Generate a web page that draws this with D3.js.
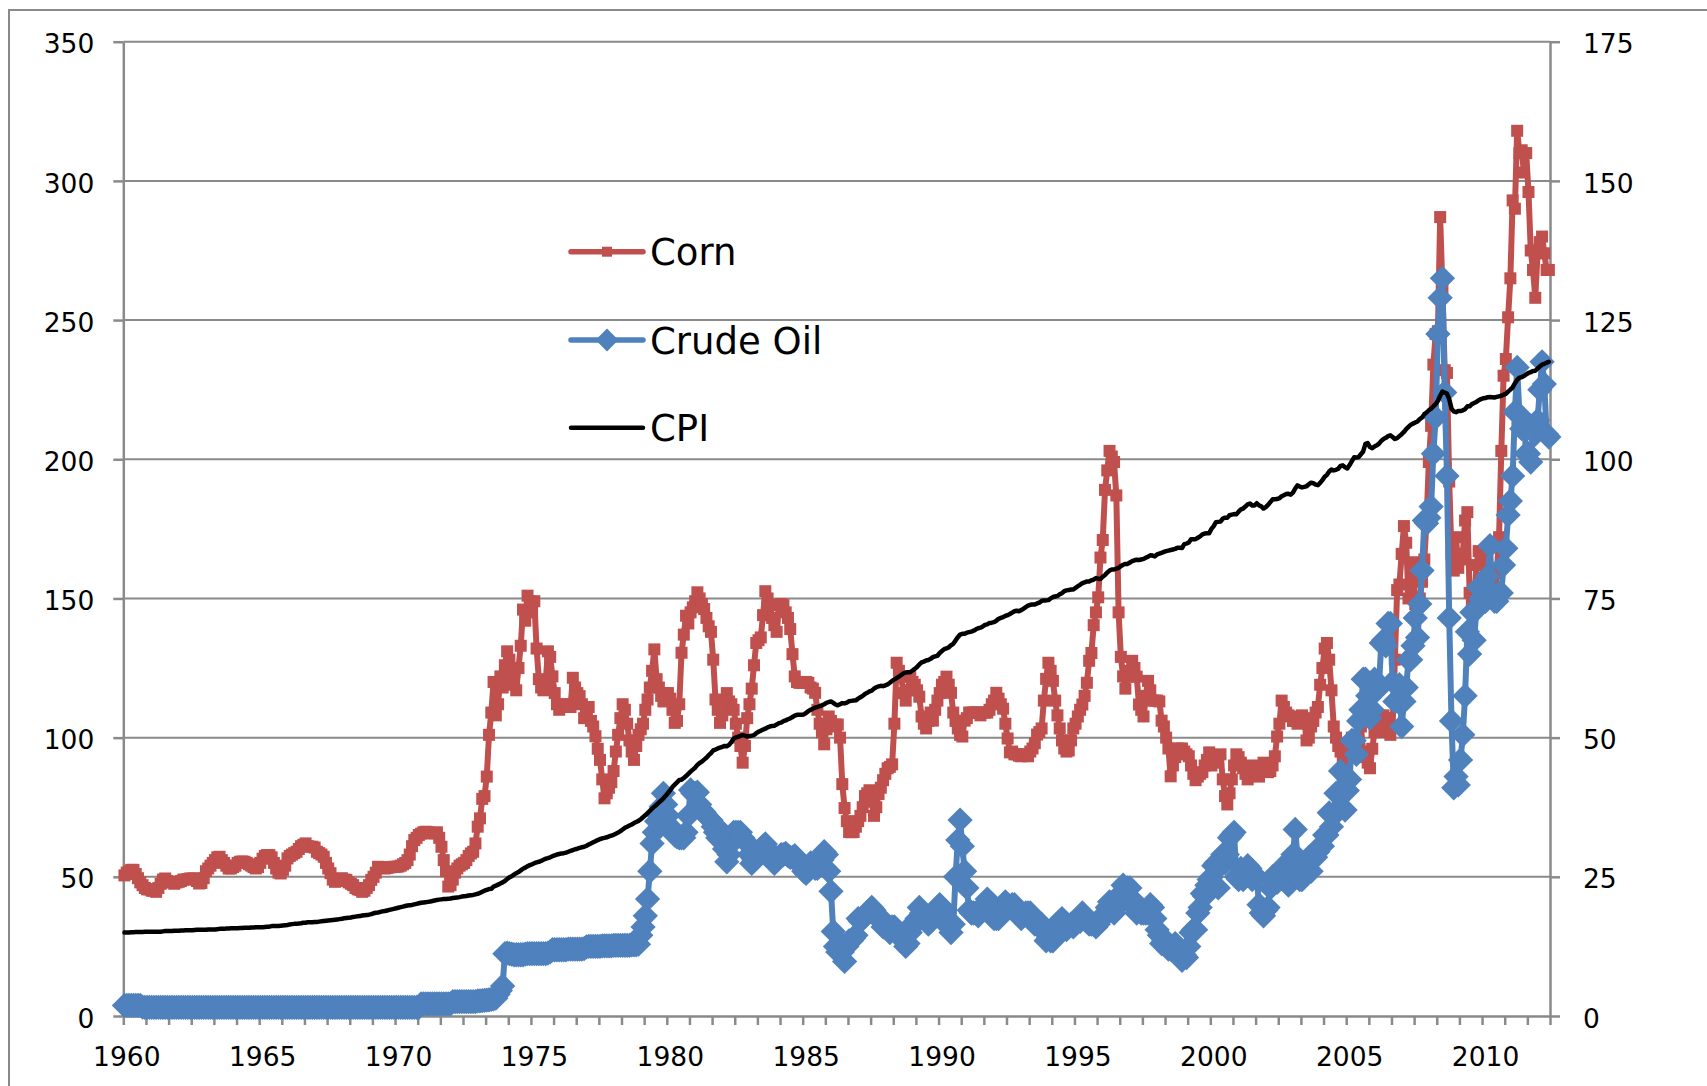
<!DOCTYPE html>
<html>
<head>
<meta charset="utf-8">
<script src="https://cdn.jsdelivr.net/npm/d3@7"></script>
<style>
  body { margin: 0; background: #fff; }
  svg { display: block; font-family: "DejaVu Sans", sans-serif; }
</style>
</head>
<body>
<svg id="chart" width="1707" height="1086"></svg>
<script>
'use strict';

// monthly values, Jan 1960 .. Jun 2012, one row per year
var corn = [
  50.5,51.5,52,52.5,52.5,51,49.5,48,47,46,45.5,45.5,
  45,45,44.6,46,47.5,49,49.4,48.5,48,48,47.5,48,
  48.2,48.5,49,49,49.2,49.4,49.4,49.4,48.5,47.6,47.8,49.5,
  52,53,54,55,56,57,57.2,56,55,54,53,53,
  53.5,54,55,55.4,55.5,55.4,55,54.5,54,53.5,53,53.5,
  55,56.5,57.5,57.8,57.8,57,55,53,51.5,51.2,52.5,54,
  56.6,57.5,58,58.5,59,60,61,61.5,62,61,60.8,60.8,
  60.5,59,58.5,58,57.2,55,53,51.3,49,48.2,48.5,49,
  49.5,49,48.9,48,47.5,47,46,45.5,45.3,44.6,45,46,
  47,48.9,50,51.5,53.6,53.5,53.1,53,53.2,53.4,53.5,53.6,
  53.6,53.7,54,54.5,55,56,58,61,63.2,64,65,65.5,
  66,66.2,66,65.8,65.6,65.6,66,64,60.8,56,52,46.5,
  47,49,51.5,53,54,54.5,55,56,57.5,58.4,59,62,
  68,71,78,79,86,101,109,120,108,112,122,118,
  126,131,128,122,119,117,125,133,146,142,151,149,
  145,149,132,121,118,117,120,131,129,122,116,112,
  110,111,112,111,112,111,121.5,118,116,114.9,112,107,
  108,111,106,104,100.5,96,92,85,78.2,80,82,84,
  88,95,101,107,112,110,105,99,95,92,97,101,
  103,105,110,113.7,118,124,131.7,121,118,115,113,116,
  116,114,110,105.3,106,112,130.5,137,143.8,141,145,146.8,
  149,152.2,150,148,146.2,143,140,138,128,113.7,110,105.3,
  108,112,116,113,112,110,105,100,97,91,97,107,
  112,117.6,126,134,135,136,144,152.6,150,147.6,143,140.4,
  138,147.6,148,147.6,145,143,139,130,122,120,119.7,119.7,
  119.7,120,119.7,118,117.6,116.1,110,105,101.9,97.6,103,107.6,
  106,104,104.7,104.7,100,83.3,74.7,70,66.1,66,66.1,68,
  70,71.9,75,79,80,81.1,77,71.9,75,79.7,82,84.7,
  87,89,89.5,90.4,105,126.9,124,121.9,116,113.3,117,121.9,
  120,119,117,114.7,107.6,105,103.3,106,109,106.1,110,113.3,
  116,119,120,121.9,119,116.1,109,106,103.3,101,100.4,106.1,
  107,109,109,109,109,109,108,109,109,109,110,112,
  113.3,116.1,114,112,110.4,105,99.7,94.7,95,94,94,93.5,
  93.3,94,94,93.3,95,96.1,98,101.1,102,103.3,113.3,121.1,
  126.9,124,120.4,113.3,108,103.3,99,96.1,95,95.4,99,103.3,
  105,107.6,110,111.9,115,119.7,127.6,130.4,140.4,145,150.4,164.7,
  171,189,196,203,201,199,187,145,129,122,117.6,121.9,
  124,127.6,125,121.9,111.9,110,107.6,115,120.4,117,113.3,113.3,
  113.3,113,106.1,104,100,96.1,86.1,90,93,96.1,96,96.1,
  95,94,93.3,90,87,84.7,86,87,87.6,90,92,94.7,
  90,91,92,92,94,85,79,76,80,85,90,94,
  93,91,89,87,85,87,90,88,87.6,86,89,91,
  89,87.6,88,90,93.3,100.4,105,113.3,111,109,108,107.6,
  106,106,105,106,108,107,99,100,104,106,109,111,
  119,125,132,134,128,117,104,100,97,95,93,92,
  95,93,100,95,94,97,104,95,93,91,89,96,
  102,105,104,102,108,104,107,101,104,128,153,155,
  166,176,170,150,153,163,148,148,150,156,164,178,
  199,212,234,245,246,287,261,232,231,192,166,160,
  172,161,164,166,178,181,152,148,147,162,167,164,
  166,160,157,152,158,152,159,172,203,230,236,251,
  265,293,290,318,310,311,303,310,296,275,268,258,
  274,278,280,274,268,268
];

// crude oil, read against the right-hand axis
var crudeOil = [
  1.9,1.9,1.9,1.9,1.9,1.9,1.9,1.9,1.6,1.56,1.56,1.56,
  1.56,1.56,1.56,1.56,1.56,1.56,1.56,1.56,1.56,1.56,1.56,1.56,
  1.56,1.56,1.56,1.56,1.56,1.56,1.56,1.56,1.56,1.56,1.56,1.56,
  1.56,1.56,1.56,1.56,1.56,1.56,1.56,1.56,1.56,1.56,1.56,1.56,
  1.56,1.56,1.56,1.56,1.56,1.56,1.56,1.56,1.56,1.56,1.56,1.56,
  1.56,1.56,1.56,1.56,1.56,1.56,1.56,1.56,1.56,1.56,1.56,1.56,
  1.56,1.56,1.56,1.56,1.56,1.56,1.56,1.56,1.56,1.56,1.56,1.56,
  1.56,1.56,1.56,1.56,1.56,1.56,1.56,1.56,1.56,1.56,1.56,1.56,
  1.56,1.56,1.56,1.56,1.56,1.56,1.56,1.56,1.56,1.56,1.56,1.56,
  1.56,1.56,1.56,1.56,1.56,1.56,1.56,1.56,1.56,1.56,1.56,1.56,
  1.56,1.56,1.56,1.56,1.56,1.56,1.56,1.56,1.56,1.56,1.56,2.16,
  2.16,2.16,2.16,2.16,2.16,2.16,2.16,2.16,2.16,2.16,2.16,2.16,
  2.16,2.6,2.6,2.6,2.6,2.6,2.6,2.6,2.6,2.6,2.6,2.6,
  2.7,2.7,2.75,2.8,2.85,2.9,3,3.1,3.2,3.9,4.6,5.4,
  11.2,11.3,11.2,11.1,11,11,11,11,11,11.1,11.2,11.2,
  11.2,11.2,11.2,11.2,11.2,11.2,11.2,11.3,11.5,11.9,11.9,11.9,
  11.9,11.9,11.9,11.9,12,12,12,12,12,12,12,12.1,
  12.4,12.5,12.5,12.5,12.5,12.5,12.5,12.6,12.6,12.6,12.6,12.6,
  12.7,12.7,12.7,12.7,12.7,12.7,12.7,12.7,12.8,12.8,12.8,12.9,
  14.5,16,18,21,26,31,33,35,36,37.6,40,38,
  36,34,33.5,32.5,32.2,32,32,32,33,36,40.6,40,
  40,40.2,38,37,36.6,36,35.5,35.2,34,33,32,31.6,
  33,30,27.7,29,31,33,33,33,33,32,31.5,31,
  29,27.4,28,29,29.5,30,30.5,30.9,30,29,28.5,27.4,
  28,28.5,29,29,29.2,28.8,28.5,28.5,28.8,28,27.5,27,
  26,25.6,26.5,27.5,27,26.5,26.5,27,28,29.5,29,26,
  22.4,15.2,12.5,11.5,13,11.5,9.8,12.5,13.5,13.5,14,14.5,
  17.5,17,17.5,18,18.5,19,19.5,19,18,18,17,16,
  16,15.5,15,16,16,15.5,15,14.5,13.5,12.5,13,15,
  16.5,16.5,17.5,19.5,18.5,17.5,17.5,16.5,17,18,18.5,19.5,
  20,19.5,18.5,16.5,16,15,16.5,25,31.6,35.2,30.5,26,
  23,19,18.5,18.5,18.5,18,19,19.5,20,21,20.5,18,
  17.5,17.5,17.5,18.5,19.5,20.5,20,19.5,20,20,19,18,
  17.5,18,18.5,18.5,18.5,17.5,16.5,16.5,16,16.5,15.5,13.5,
  14,13.5,13.5,15,16,17,17.5,16.5,15.5,16,16.5,16,
  16.5,17,17,18.5,18,17,16.5,16.5,16.5,16,16.5,17.5,
  18,18,19.5,20.5,19,18.5,19.5,20.5,22,23.5,22.5,23,
  23,21,19.5,18.5,19.5,18.5,18.5,18.5,18.5,20,19.5,17.5,
  15.5,14.5,13,13.5,13.5,12,12,12,13,12.5,11.5,10,
  11,10.5,12.5,15,15.5,15.5,18.5,19.5,22,21.5,23.5,24.5,
  25,27,27.5,23,27,29,27.5,29,32,32.5,33,25,
  24.5,26.5,24.5,25,27,26.5,24.5,25,25,20,18.5,18,
  19,19.5,23,25,25,24,25,25.5,27,26.5,23.5,26,
  29,33.5,28.5,24.5,24.5,26.5,27.5,28.5,26,28.5,28.5,29.5,
  30.5,30.5,32.5,32.5,36.5,34,36,40,40,44,40,37,
  40.5,42.5,49.5,49.5,47,53,55,60.5,60.5,57.5,53.5,55,
  60.5,58.5,59.5,67,67.5,66.5,70.5,70.5,60,56.5,56.5,59.5,
  52,56.5,59,64,64,66.5,71.5,68,74,80,89,88.5,
  89.5,91.5,101,107.5,122.5,129,132.5,112,97,71.5,53,41,
  43,41.5,46,50.5,57.5,69,65,72.5,67.5,73,77,75,
  77,74.5,79,84.5,76,74.5,74.5,76,76,81,84,90,
  92.5,97,108.5,116.5,108,105.5,106.5,101,101,99.5,105,104.5,
  107,112.5,117.5,113.5,104.5,104
];

var cpi = [
  30,30,30,30.1,30.1,30.2,30.2,30.2,30.2,30.3,30.3,30.3,
  30.3,30.3,30.3,30.3,30.3,30.4,30.5,30.5,30.5,30.5,30.6,30.6,
  30.6,30.7,30.7,30.8,30.8,30.8,30.8,30.9,31,31,31,31,
  31,31.1,31.1,31.1,31.1,31.2,31.3,31.3,31.3,31.4,31.4,31.5,
  31.5,31.5,31.5,31.6,31.6,31.7,31.7,31.7,31.8,31.8,31.9,31.9,
  31.9,31.9,32,32.1,32.1,32.3,32.3,32.3,32.3,32.4,32.5,32.6,
  32.7,32.9,33,33.1,33.1,33.2,33.3,33.5,33.5,33.7,33.7,33.7,
  33.8,33.8,33.9,34,34.1,34.2,34.3,34.4,34.5,34.6,34.7,34.8,
  34.9,35.1,35.2,35.3,35.4,35.6,35.7,35.8,35.9,36.1,36.2,36.3,
  36.4,36.6,36.9,37.1,37.2,37.4,37.6,37.7,37.9,38.1,38.3,38.5,
  38.7,38.9,39.1,39.3,39.5,39.7,39.8,39.9,40.1,40.3,40.5,40.7,
  40.8,40.9,41,41.1,41.3,41.5,41.7,41.8,41.9,42,42,42.1,
  42.2,42.4,42.5,42.6,42.7,42.9,43,43.1,43.3,43.4,43.5,43.7,
  43.9,44.2,44.6,45,45.3,45.6,45.7,46.5,46.8,47.2,47.6,48,
  48.5,49.2,49.8,50.2,50.8,51.3,51.7,52.3,52.9,53.3,53.8,54.2,
  54.5,54.9,55.2,55.4,55.7,56.1,56.5,56.7,57,57.4,57.7,58,
  58.2,58.4,58.5,58.7,59,59.3,59.6,59.9,60.1,60.4,60.6,60.8,
  61.1,61.6,62,62.4,62.8,63.2,63.5,63.8,64,64.2,64.5,64.8,
  65.1,65.5,65.9,66.4,67,67.6,68,68.4,68.8,69.3,69.7,70.1,
  70.7,71.4,72.1,72.9,73.7,74.5,75.2,75.9,76.7,77.4,78.2,79.1,
  80.1,81.1,82.3,83.1,83.9,84.8,84.9,85.5,86.2,87,87.8,88.5,
  89.2,90.2,90.9,91.4,92.1,92.8,93.7,94.4,95.4,95.7,96.1,96.4,
  96.7,97,96.9,97.4,98.4,99.6,100.1,100.3,100.6,100.9,100.7,100.4,
  100.6,100.7,100.9,101.6,102.1,102.5,102.9,103.2,103.7,104,104.2,104.3,
  104.7,105.2,105.4,105.9,106.2,106.6,106.9,107.4,107.9,108.2,108.2,108.2,
  108.3,108.9,109.5,110,110.4,110.8,111,111.3,111.6,112,112.5,112.8,
  113,112.5,111.9,111.6,112,112.4,112.3,112.6,113.1,113.2,113.3,113.4,
  114,114.5,115,115.7,116.1,116.6,116.9,117.6,118.1,118.4,118.6,118.5,
  118.8,119.1,119.7,120.4,120.9,121.4,121.9,122.5,123.1,123.4,123.5,123.5,
  124.1,124.7,125.4,126.3,127,127.3,127.7,127.9,128.3,128.9,129.2,129.4,
  130.4,131.1,131.8,132.1,132.4,133.2,133.7,134.9,136.1,137,137.3,137.3,
  137.7,137.9,138.1,138.4,138.9,139.3,139.5,139.9,140.5,140.7,141.2,141.3,
  141.5,142,142.7,143,143.3,143.7,144,144.4,144.9,145.4,145.6,145.4,
  145.8,146.3,146.9,147.4,147.7,147.8,147.8,148.2,148.5,149.1,149.3,149.3,
  149.4,150,150.5,150.7,150.9,151.5,151.9,152.6,152.9,153,153.2,153.2,
  153.8,154.4,154.9,155.5,155.8,156.1,156.1,156.5,156.8,157.3,157.1,157,
  157.8,158.4,159.3,160,160.4,160.4,160.7,161,161.6,162.1,162.4,162.4,
  162.9,163.4,163.7,163.9,163.8,164,164.2,164.6,165,165.5,165.4,165.1,
  165.8,166.1,166.4,166.7,167,167.2,167.4,167.6,167.8,168.2,168.2,168.1,
  169.5,169.7,170.1,171.3,171.3,171.3,171.8,172.3,173,173.3,173.4,173.4,
  175,176,177.4,177.5,177.6,178.7,179,179,179.9,180.1,180.3,180.2,
  181.2,182,182.3,183,183.8,184.1,183.4,183.4,184.2,183.4,183.1,182.3,
  182.8,183.6,184.6,185.6,185.6,185.7,186,186.7,187.1,187.5,187.6,187.3,
  188,189.5,190.6,190.2,189.9,190.1,190.3,191,191.6,191.4,190.9,190.7,
  191.5,192.5,193.7,194.4,195.6,196.3,196,196.2,196.6,197.6,197.8,197.1,
  196.7,197.9,199.3,200.7,200.6,200.8,201.8,202.8,205.5,205.8,204.4,204,
  204.6,205,205.6,206.6,207.3,207.7,208.3,208.6,208,207.3,207.6,208.3,
  209,209.8,210.8,211.6,212.4,212.8,213.2,213.6,214.4,215,216.2,216.8,
  217.6,218.2,219,219.8,221,222.8,224.3,223.9,223.6,221.6,218.2,217.2,
  216.9,217.3,217.3,217.6,218,219,219,219.8,220.2,220.6,221.2,221.6,
  221.9,222,222.3,222.4,222.3,222.2,222.4,222.6,222.8,223.2,223.5,224.3,
  225,225.8,227.3,228.5,229.3,229.5,229.9,230.5,231,231.3,231.7,231.8,
  232.6,233.3,234,234.3,234.7,235
];

var yearLabels = ['1960', '1965', '1970', '1975', '1980', '1985',
                  '1990', '1995', '2000', '2005', '2010'];
var leftTicks = [0, 50, 100, 150, 200, 250, 300, 350];
var rightTicks = [0, 25, 50, 75, 100, 125, 150, 175];
var seriesNames = ['Corn', 'Crude Oil', 'CPI'];

var cornColor = '#C0504D';
var oilColor = '#4F81BD';
var gridColor = '#8a8a8a';

var plot = {left: 123.3, right: 1550, top: 41.7, bottom: 1016};
var monthCount = corn.length;

var svg = d3.select('#chart');

svg.append('rect')
    .attr('width', 1707).attr('height', 1086)
    .attr('fill', '#fff');

// chart area frame, its right and bottom edges fall outside the picture
svg.append('rect')
    .attr('x', 9).attr('y', 10)
    .attr('width', 1720).attr('height', 1100)
    .attr('fill', 'none')
    .attr('stroke', gridColor)
    .attr('stroke-width', 2);

var x = d3.scaleLinear().domain([0, monthCount]).range([plot.left, plot.right]);
var yLeft = d3.scaleLinear().domain([0, 350]).range([plot.bottom, plot.top]);
var yRight = d3.scaleLinear().domain([0, 175]).range([plot.bottom, plot.top]);

// horizontal gridlines
svg.append('g')
  .selectAll('line')
    .data(leftTicks.slice(1))
  .enter().append('line')
    .attr('x1', plot.left).attr('x2', plot.right)
    .attr('y1', function(d) { return yLeft(d); })
    .attr('y2', function(d) { return yLeft(d); })
    .attr('stroke', gridColor)
    .attr('stroke-width', 2);

function styleAxis(g) {
  g.attr('font-family', '"DejaVu Sans", sans-serif')
   .attr('font-size', 26.5);
  g.selectAll('.domain, .tick line')
      .attr('stroke', gridColor)
      .attr('stroke-width', 2.5);
  g.selectAll('text').attr('fill', '#000');
}

svg.append('g')
    .attr('transform', 'translate(' + plot.left + ',0)')
    .call(d3.axisLeft(yLeft).tickValues(leftTicks)
        .tickSize(10).tickSizeOuter(0).tickPadding(19))
    .call(styleAxis)
  .selectAll('text')
    .attr('dy', '0.42em');

svg.append('g')
    .attr('transform', 'translate(' + plot.right + ',0)')
    .call(d3.axisRight(yRight).tickValues(rightTicks)
        .tickSize(10).tickSizeOuter(0).tickPadding(23))
    .call(styleAxis)
  .selectAll('text')
    .attr('dy', '0.42em');

// a tick every 10 months, a year label every 60
svg.append('g')
    .attr('transform', 'translate(0,' + plot.bottom + ')')
    .call(d3.axisBottom(x).tickValues(d3.range(0, monthCount + 1, 10))
        .tickSize(9).tickSizeOuter(0).tickPadding(22)
        .tickFormat(function(d) {
          return d % 60 === 0 ? yearLabels[d / 60] : '';
        }))
    .call(styleAxis)
  .selectAll('text')
    .attr('dx', 3);

function lineFor(scale) {
  return d3.line()
      .x(function(d, i) { return x(i + 0.5); })
      .y(function(d) { return scale(d); });
}

var diamond = d3.symbol().type(d3.symbolSquare).size(320);

// corn, squares
svg.append('path')
    .datum(corn)
    .attr('d', lineFor(yLeft))
    .attr('fill', 'none')
    .attr('stroke', cornColor)
    .attr('stroke-width', 6)
    .attr('stroke-linejoin', 'round')
    .attr('stroke-linecap', 'round');
svg.append('g')
  .selectAll('rect')
    .data(corn)
  .enter().append('rect')
    .attr('x', function(d, i) { return x(i + 0.5) - 6; })
    .attr('y', function(d) { return yLeft(d) - 6; })
    .attr('width', 12).attr('height', 12)
    .attr('fill', cornColor);

// crude oil, diamonds, on the right axis
svg.append('path')
    .datum(crudeOil)
    .attr('d', lineFor(yRight))
    .attr('fill', 'none')
    .attr('stroke', oilColor)
    .attr('stroke-width', 6)
    .attr('stroke-linejoin', 'round')
    .attr('stroke-linecap', 'round');
svg.append('g')
  .selectAll('path')
    .data(crudeOil)
  .enter().append('path')
    .attr('d', diamond)
    .attr('transform', function(d, i) {
      return 'translate(' + x(i + 0.5) + ',' + yRight(d) + ') rotate(45)';
    })
    .attr('fill', oilColor);

// cpi, plain line
svg.append('path')
    .datum(cpi)
    .attr('d', lineFor(yLeft))
    .attr('fill', 'none')
    .attr('stroke', '#000')
    .attr('stroke-width', 4.5)
    .attr('stroke-linejoin', 'round')
    .attr('stroke-linecap', 'round');

// legend
var legendY = [251.7, 340, 427.7];
var legendColors = [cornColor, oilColor, '#000'];
var legend = svg.append('g')
  .selectAll('g')
    .data(seriesNames)
  .enter().append('g')
    .attr('transform', function(d, i) { return 'translate(0,' + legendY[i] + ')'; });

legend.append('line')
    .attr('x1', 571).attr('x2', 643)
    .attr('stroke', function(d, i) { return legendColors[i]; })
    .attr('stroke-width', function(d, i) { return i === 2 ? 4.5 : 5.5; })
    .attr('stroke-linecap', 'round');

legend.filter(function(d, i) { return i === 0; })
  .append('rect')
    .attr('x', 602).attr('y', -5).attr('width', 10).attr('height', 10)
    .attr('fill', cornColor);

legend.filter(function(d, i) { return i === 1; })
  .append('path')
    .attr('d', d3.symbol().type(d3.symbolSquare).size(260))
    .attr('transform', 'translate(607,0) rotate(45)')
    .attr('fill', oilColor);

legend.append('text')
    .attr('x', 650).attr('y', 13.5)
    .attr('font-size', 37)
    .attr('fill', '#000')
    .text(function(d) { return d; });
</script>
</body>
</html>
